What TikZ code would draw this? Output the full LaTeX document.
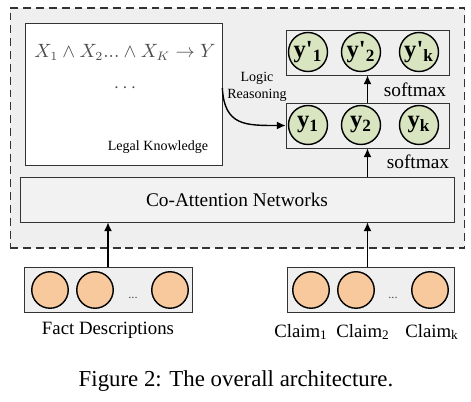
\documentclass[tikz,border=0pt]{standalone}
\usepackage[no-math]{fontspec}
\setmainfont{Liberation Serif}
\usetikzlibrary{arrows.meta}

\definecolor{panelgray}{HTML}{EFEFEF}
\definecolor{leafgreen}{HTML}{D9E4C1}
\definecolor{peach}{HTML}{F9C99E}

\begin{document}
\begin{tikzpicture}[x=0.02cm, y=-0.02cm, >={Latex[length=5pt,width=4.5pt]}]
    \useasboundingbox (0,0) rectangle (471,402);

    \node (frame) [draw=black!80, dash pattern=on 4.5pt off 2.8pt, line width=0.6pt, fill=panelgray, minimum width=9.1cm, minimum height=4.8cm, inner sep=0pt] at (237.5,128) {};

    \begin{scope}[every node/.style={draw=black!80, thin, inner sep=0pt}]
        \node (legal) [fill=white, minimum width=3.94cm, minimum height=2.84cm] at (123.5,94) {};
        \node (coatt) [fill=black!5, minimum width=8.68cm, minimum height=0.9cm, font=\fontsize{11}{13}\selectfont] at (237,199.5) {Co-Attention Networks};
        \node (ypbox) [fill=panelgray, minimum width=3.26cm, minimum height=0.9cm] at (367.5,52.5) {};
        \node (ybox) [fill=panelgray, minimum width=3.26cm, minimum height=0.9cm] at (367.5,125.5) {};
        \node (facts) [fill=panelgray, minimum width=3.36cm, minimum height=0.9cm] at (108,289.5) {};
        \node (claims) [fill=panelgray, minimum width=3.34cm, minimum height=0.9cm] at (370.5,289.5) {};
    \end{scope}

    \begin{scope}[every node/.style={circle, fill=leafgreen, draw, thick, minimum size=0.78cm, inner sep=0pt, font=\fontsize{14}{14}\selectfont\bfseries}]
        \node (yp1) at (308,52) {y\textquotesingle\textsubscript{1}};
        \node (yp2) at (361,52) {y\textquotesingle\textsubscript{2}};
        \node (ypk) at (419,52) {y\textquotesingle\textsubscript{k}};
        \node (y1) at (308,125) {y\textsubscript{1}};
        \node (y2) at (361,125) {y\textsubscript{2}};
        \node (yk) at (419,125) {y\textsubscript{k}};
    \end{scope}

    \begin{scope}[every node/.style={circle, fill=peach, draw, thick, minimum size=0.73cm, inner sep=0pt}]
        \node (f1) at (50,290) {};
        \node (f2) at (95,290) {};
        \node (fn) at (170,290) {};
        \node (c1) at (311,290) {};
        \node (c2) at (356,290) {};
        \node (ck) at (430,290) {};
    \end{scope}

    \begin{scope}[every node/.style={inner sep=0pt, font=\fontsize{10.7}{13}\selectfont}]
        \node (rule) at (125,52) {\color{black!70}$X_1 \land X_2 ... \land X_K \rightarrow Y$};
        \node (more) at (125,88) {\color{black!70}$\cdots$};
        \node (legaltxt) at (158,147) [font=\fontsize{8}{10}\selectfont] {Legal Knowledge};
        \node (logic) at (257,87) [align=center, font=\fontsize{8}{10}\selectfont] {Logic\\Reasoning};
        \node (soft1) at (415,90) [font=\fontsize{11}{13}\selectfont] {softmax};
        \node (soft2) at (418,162) [font=\fontsize{11}{13}\selectfont] {softmax};
        \node (fdots) at (133,298) [font=\fontsize{7}{8}\selectfont, text=black!70] {...};
        \node (cdots) at (393,298) [font=\fontsize{7}{8}\selectfont, text=black!70] {...};
        \node (factlbl) at (108,330) {Fact Descriptions};
        \node (claim1) at (301,332) {Claim\textsubscript{1}};
        \node (claim2) at (363,332) {Claim\textsubscript{2}};
        \node (claimk) at (432,332) {Claim\textsubscript{k}};
        \node (caption) at (236,381) [font=\fontsize{13}{15}\selectfont] {Figure 2: The overall architecture.};
    \end{scope}

    \begin{scope}[every edge/.style={draw, thick, ->}]
        \path (ybox.north) edge (ypbox.south);
        \path (coatt.north -| ybox.south) edge (ybox.south);
        \path (facts.north) edge (facts.north |- coatt.south);
        \path (claims.north -| ybox.south) edge (coatt.south -| ybox.south);
    \end{scope}
    \draw [thick, ->] ([yshift=0.12cm]legal.east) .. controls +(2,38) and +(-40,0) .. (ybox.west);
\end{tikzpicture}
\end{document}
